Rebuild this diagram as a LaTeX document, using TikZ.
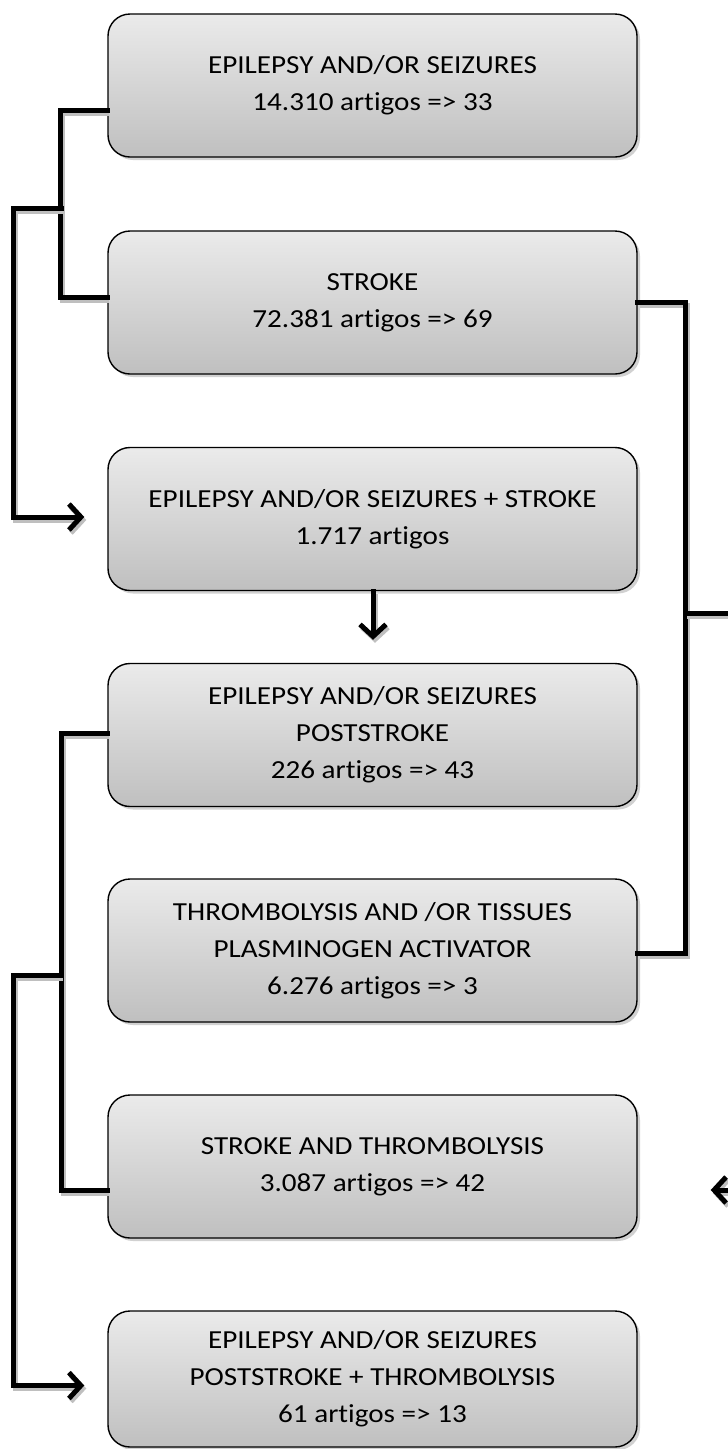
\documentclass[tikz,border=0pt]{standalone}
\usepackage{fontspec}
\setmainfont{Carlito}[Ligatures=NoCommon, FakeStretch=1.12]
\usetikzlibrary{arrows.meta,shadows,calc}
\begin{document}
\begin{tikzpicture}[x=1pt,y=-1pt,
  box/.style={draw=black, line width=1.4pt, rounded corners=22pt,
    minimum width=529pt, minimum height=143pt, inner sep=0pt,
    top color=black!8, bottom color=black!25, align=center,
    font=\fontsize{26}{37}\selectfont,
    drop shadow={shadow xshift=3pt, shadow yshift=-3pt, fill=black!30, opacity=0.6}},
  conn/.style={line width=5pt, line cap=rect, line join=miter,
    preaction={draw=black!25, line width=5pt, transform canvas={shift={(2pt,-3pt)}}}},
  arr/.style={conn, -{Straight Barb[length=12pt,width=26pt]}}
]
\useasboundingbox (0,0) rectangle (728,1449);

\node[box] (b1) at (372.5,85.5) {EPILEPSY AND/OR SEIZURES\\14.310 artigos => 33};
\node[box] (b2) at (372.5,302.5) {STROKE\\72.381 artigos => 69};
\node[box] (b3) at (372.5,519) {EPILEPSY AND/OR SEIZURES + STROKE\\1.717 artigos};
\node[box] (b4) at (372.5,735) {EPILEPSY AND/OR SEIZURES\\POSTSTROKE\\226 artigos => 43};
\node[box] (b5) at (372.5,950.5) {THROMBOLYSIS AND /OR TISSUES\\PLASMINOGEN ACTIVATOR\\6.276 artigos => 3};
\node[box] (b6) at (372.5,1166.5) {STROKE AND THROMBOLYSIS\\3.087 artigos => 42};
\node[box, minimum height=136pt] (b7) at (372.5,1379) {EPILEPSY AND/OR SEIZURES\\POSTSTROKE + THROMBOLYSIS\\61 artigos => 13};

\coordinate (c1) at (61,208);
\coordinate (c2) at (61,975);
\coordinate (r1) at (685,613);
\coordinate (r1e) at (735,613);
\coordinate (r2e) at (735,1190);

% top-left bracket
\draw[conn] ([yshift=-24.5pt]b1.west) -- ++(-47,0) |- ([yshift=5.5pt]b2.west);
\draw[arr] (c1) -- (13,208) |- ([xshift=-23pt,yshift=2pt]b3.west);

% down arrow
\draw[arr] ([xshift=0.5pt]b3.south) -- ([xshift=0.5pt,yshift=23pt]b4.north);

% right bracket
\draw[conn] (b2.east) -- (685,302.5) |- ([yshift=-2.5pt]b5.east);
\draw[conn] (r1) -- (r1e);
\draw[arr] (r2e) -- ([xshift=73pt,yshift=-23.5pt]b6.east);

% bottom-left bracket
\draw[conn] ([yshift=2pt]b4.west) -- (61,733) |- ([yshift=-23.5pt]b6.west);
\draw[arr] (c2) -- (13,975) |- ([xshift=-23pt,yshift=-6.5pt]b7.west);
\end{tikzpicture}
\end{document}
